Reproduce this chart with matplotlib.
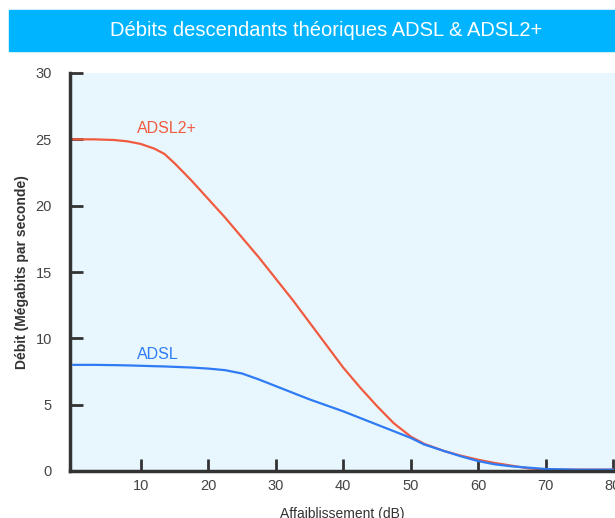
import matplotlib.pyplot as plt
from matplotlib.patches import Rectangle

plt.rcParams['font.family'] = ['Liberation Sans', 'DejaVu Sans']

# valeurs
attenuation = [0, 3, 6, 8, 10, 12, 13.5, 15, 17.5, 20, 22.5, 25, 27.5, 30, 32.5, 35, 37.5, 40,
               42.5, 45, 47.5, 50, 52, 55, 57.5, 60, 62.5, 65, 67.5, 70, 75, 80]
adsl2plus = [25.0, 25.0, 24.95, 24.85, 24.65, 24.3, 23.9, 23.2, 21.9, 20.5, 19.1, 17.6, 16.1,
             14.5, 12.9, 11.2, 9.5, 7.8, 6.3, 4.9, 3.6, 2.6, 2.05, 1.5, 1.15, 0.85, 0.6,
             0.4, 0.2, 0.1, 0.1, 0.1]
adsl = [8.0, 8.0, 7.98, 7.96, 7.93, 7.9, 7.88, 7.85, 7.8, 7.72, 7.6, 7.35, 6.9, 6.4, 5.9,
        5.4, 4.95, 4.5, 4.0, 3.5, 3.0, 2.5, 2.0, 1.5, 1.1, 0.75, 0.5, 0.35, 0.25, 0.15,
        0.1, 0.1]
xticks = [10, 20, 30, 40, 50, 60, 70, 80]
yticks = [0, 5, 10, 15, 20, 25, 30]

red = '#f05a40'
blue = '#2f7bf5'
dark = '#333333'

fig = plt.figure(figsize=(6.15, 5.18), dpi=100)
fig.patches.append(Rectangle((9 / 615, 1 - 51 / 518), 1, 41 / 518,
                             transform=fig.transFigure, color='#00b4ff', zorder=0))
fig.text(0.53, 1 - 30.5 / 518, 'Débits descendants théoriques ADSL & ADSL2+',
         color='white', fontsize=14.5, ha='center', va='center')

ax = fig.add_axes([70 / 615, 1 - 471 / 518, 1 - 70 / 615, 398 / 518])
ax.set_facecolor('#e8f7fd')
ax.plot(attenuation, adsl2plus, color=red, lw=1.6)
ax.plot(attenuation, adsl, color=blue, lw=1.6)
ax.text(9.5, 25.8, 'ADSL2+', color=red, fontsize=11.5, va='center')
ax.text(9.5, 8.8, 'ADSL', color=blue, fontsize=11.5, va='center')

ax.set_xlim(-0.5, 80.3)
ax.set_ylim(0, 30)
ax.set_xticks(xticks)
ax.set_yticks(yticks)
ax.tick_params(direction='in', length=9, width=2, color=dark,
               labelcolor='#444444', labelsize=10.5)
ax.tick_params(axis='y', pad=13)
ax.tick_params(axis='x', pad=6)
for s in ['top', 'right']:
    ax.spines[s].set_visible(False)
for s in ['left', 'bottom']:
    ax.spines[s].set_color(dark)
    ax.spines[s].set_linewidth(2.5)

ax.set_xlabel('Affaiblissement (dB)', fontsize=10, color=dark, labelpad=10)
ax.set_ylabel('Débit (Mégabits par seconde)', fontsize=10, color=dark,
              fontweight='bold', labelpad=5)

fig.savefig('out.png', dpi=100)
